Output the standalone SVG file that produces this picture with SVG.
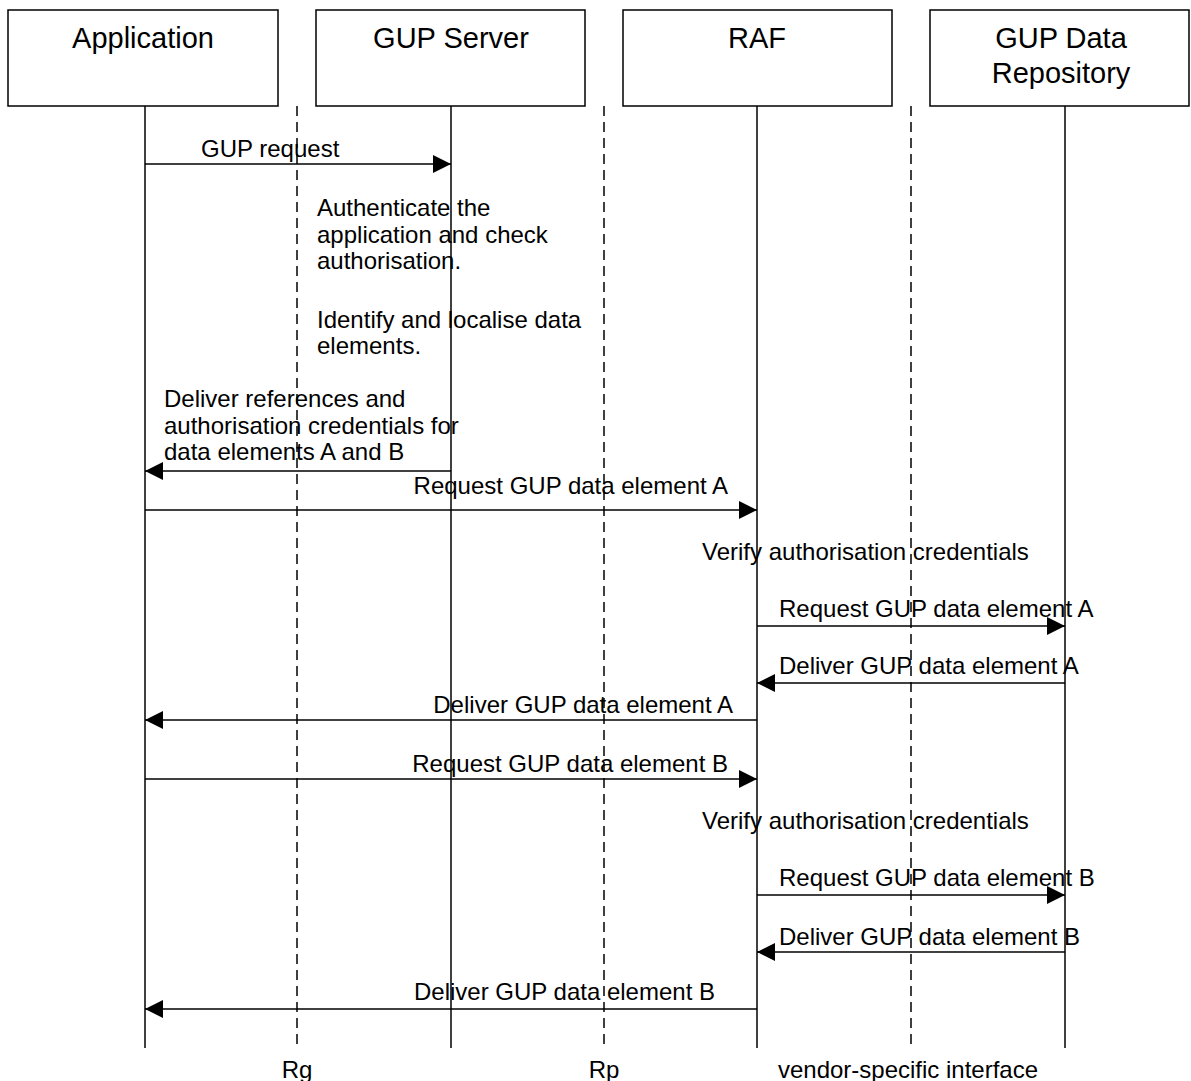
<svg xmlns="http://www.w3.org/2000/svg" width="1191" height="1081" viewBox="0 0 1191 1081">
<defs>
<style>
text{font-family:"Liberation Sans",Arial,sans-serif;fill:#000}
.t{font-size:29px;text-anchor:middle}
.m{font-size:24px}
.box{fill:#fff;stroke:#000;stroke-width:1.5}
.life{stroke:#000;stroke-width:1.5}
.dash{stroke:#000;stroke-width:1.5;stroke-dasharray:10,6}
.msg{stroke:#000;stroke-width:1.5;fill:none}
</style>
<marker id="ah" markerWidth="18" markerHeight="18" viewBox="0 0 18 18" refX="18" refY="9" orient="auto" markerUnits="userSpaceOnUse">
<path d="M0,0 L18,9 L0,18 Z" fill="#000"/>
</marker>
</defs>
<rect width="1191" height="1081" fill="#fff"/>
<g id="interfaces">
<line class="dash" x1="297" y1="106" x2="297" y2="1048"/>
<line class="dash" x1="604" y1="106" x2="604" y2="1048"/>
<line class="dash" x1="911" y1="106" x2="911" y2="1048"/>
<text class="m" x="297" y="1078" text-anchor="middle">Rg</text>
<text class="m" x="604" y="1078" text-anchor="middle">Rp</text>
<text class="m" x="908" y="1078" text-anchor="middle">vendor-specific interface</text>
</g>
<g id="application">
<rect class="box" x="8" y="10" width="270" height="96"/>
<text class="t" x="143" y="48">Application</text>
<line class="life" x1="145" y1="106" x2="145" y2="1048"/>
</g>
<g id="gup-server">
<rect class="box" x="316" y="10" width="269" height="96"/>
<text class="t" x="451" y="48">GUP Server</text>
<line class="life" x1="451" y1="106" x2="451" y2="1048"/>
</g>
<g id="raf">
<rect class="box" x="623" y="10" width="269" height="96"/>
<text class="t" x="757" y="48">RAF</text>
<line class="life" x1="757" y1="106" x2="757" y2="1048"/>
</g>
<g id="gup-data-repository">
<rect class="box" x="930" y="10" width="259" height="96"/>
<text class="t" x="1061" y="48">GUP Data</text>
<text class="t" x="1061" y="83">Repository</text>
<line class="life" x1="1065" y1="106" x2="1065" y2="1048"/>
</g>
<g id="connectors">
<line class="msg" x1="145" y1="164" x2="451" y2="164" marker-end="url(#ah)"/>
<line class="msg" x1="451" y1="471" x2="145" y2="471" marker-end="url(#ah)"/>
<line class="msg" x1="145" y1="510" x2="757" y2="510" marker-end="url(#ah)"/>
<line class="msg" x1="757" y1="626" x2="1065" y2="626" marker-end="url(#ah)"/>
<line class="msg" x1="1065" y1="683" x2="757" y2="683" marker-end="url(#ah)"/>
<line class="msg" x1="757" y1="720" x2="145" y2="720" marker-end="url(#ah)"/>
<line class="msg" x1="145" y1="779" x2="757" y2="779" marker-end="url(#ah)"/>
<line class="msg" x1="757" y1="895" x2="1065" y2="895" marker-end="url(#ah)"/>
<line class="msg" x1="1065" y1="952" x2="757" y2="952" marker-end="url(#ah)"/>
<line class="msg" x1="757" y1="1009" x2="145" y2="1009" marker-end="url(#ah)"/>
</g>
<g id="labels">
<text class="m" x="201" y="157">GUP request</text>
<text class="m" x="317" y="216">Authenticate the</text>
<text class="m" x="317" y="243">application and check</text>
<text class="m" x="317" y="269">authorisation.</text>
<text class="m" x="317" y="328">Identify and localise data</text>
<text class="m" x="317" y="354">elements.</text>
<text class="m" x="164" y="407">Deliver references and</text>
<text class="m" x="164" y="434">authorisation credentials for</text>
<text class="m" x="164" y="460">data elements A and B</text>
<text class="m" x="728" y="494" text-anchor="end">Request GUP data element A</text>
<text class="m" x="702" y="560">Verify authorisation credentials</text>
<text class="m" x="779" y="617">Request GUP data element A</text>
<text class="m" x="779" y="674">Deliver GUP data element A</text>
<text class="m" x="733" y="713" text-anchor="end">Deliver GUP data element A</text>
<text class="m" x="728" y="772" text-anchor="end">Request GUP data element B</text>
<text class="m" x="702" y="829">Verify authorisation credentials</text>
<text class="m" x="779" y="886">Request GUP data element B</text>
<text class="m" x="779" y="945">Deliver GUP data element B</text>
<text class="m" x="715" y="1000" text-anchor="end">Deliver GUP data element B</text>
</g>
</svg>
